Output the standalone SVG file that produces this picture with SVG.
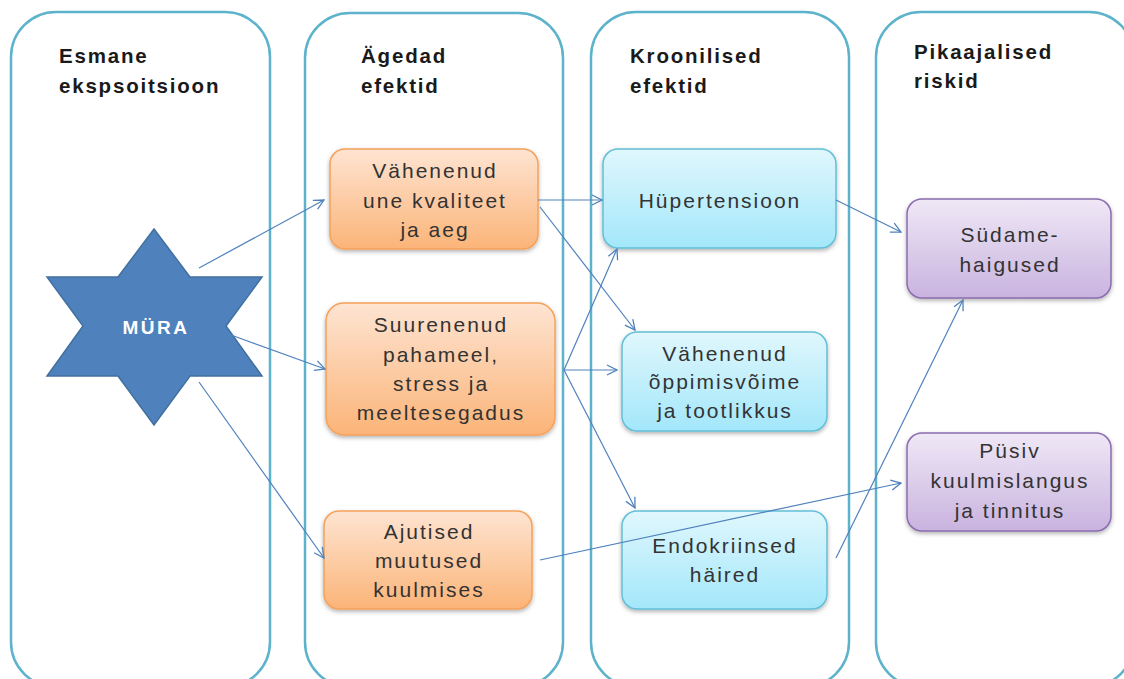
<svg xmlns="http://www.w3.org/2000/svg" width="1124" height="679" viewBox="0 0 1124 679">
<defs>
<linearGradient id="gO" x1="0" y1="0" x2="0" y2="1"><stop offset="0" stop-color="#fee4d2"/><stop offset="1" stop-color="#fbb478"/></linearGradient>
<linearGradient id="gB" x1="0" y1="0" x2="0" y2="1"><stop offset="0" stop-color="#e0f7fd"/><stop offset="1" stop-color="#a3e7fa"/></linearGradient>
<linearGradient id="gP" x1="0" y1="0" x2="0" y2="1"><stop offset="0" stop-color="#efe8f6"/><stop offset="1" stop-color="#c9b3df"/></linearGradient>
<filter id="sh" x="-10%" y="-10%" width="120%" height="130%"><feDropShadow dx="0" dy="2" stdDeviation="2" flood-color="#000" flood-opacity="0.3"/></filter>
<marker id="ar" viewBox="0 0 12 12" refX="11" refY="6" markerWidth="12" markerHeight="12" markerUnits="userSpaceOnUse" orient="auto"><path d="M1,1 L11,6 L1,11" fill="none" stroke="#4f81bd" stroke-width="1.3"/></marker>
</defs>
<style>
.col{fill:#fff;stroke:#5db3cb;stroke-width:2.5}
.hd{font-family:"Liberation Sans",Arial,sans-serif;font-weight:bold;font-size:20.5px;letter-spacing:1.8px;fill:#1a1a1a}
.bt{font-family:"Liberation Sans",Arial,sans-serif;font-size:21px;letter-spacing:2px;fill:#333;text-anchor:middle}
.or{fill:url(#gO);stroke:#f5a15a;stroke-width:1.5;filter:url(#sh)}
.bl{fill:url(#gB);stroke:#62bfd7;stroke-width:1.5;filter:url(#sh)}
.pu{fill:url(#gP);stroke:#8a6caf;stroke-width:1.5;filter:url(#sh)}
.cn{fill:none;stroke:#4f81bd;stroke-width:1.2;marker-end:url(#ar)}
</style>
<rect width="1124" height="679" fill="#fff"/>
<g id="col1"><rect class="col" x="11" y="12" width="259" height="675" rx="45"/><text class="hd" x="59" y="63">Esmane</text><text class="hd" x="59" y="93">ekspsoitsioon</text></g>
<g id="col2"><rect class="col" x="305" y="13" width="258" height="674" rx="45"/><text class="hd" x="361" y="63">Ägedad</text><text class="hd" x="361" y="93">efektid</text></g>
<g id="col3"><rect class="col" x="591" y="12" width="258" height="675" rx="45"/><text class="hd" x="630" y="63">Kroonilised</text><text class="hd" x="630" y="93">efektid</text></g>
<g id="col4"><rect class="col" x="876" y="12" width="258" height="675" rx="45"/><text class="hd" x="914" y="59">Pikaajalised</text><text class="hd" x="914" y="88">riskid</text></g>
<g id="mura"><path d="M154,229 L190,277 L262,277 L226,326 L262,376 L190,376 L154,425 L118,376 L47,376 L83,326 L47,277 L118,277 Z" fill="#4f81bd" stroke="#41709f" stroke-width="1.5"/><text x="156" y="334" font-family="'Liberation Sans',Arial,sans-serif" font-weight="bold" font-size="19" letter-spacing="2.5" fill="#fff" text-anchor="middle">MÜRA</text></g>
<g id="unekvaliteet"><rect class="or" x="330" y="149" width="208" height="100" rx="15"/><text class="bt" x="435" y="178">Vähenenud</text><text class="bt" x="435" y="208">une kvaliteet</text><text class="bt" x="435" y="237">ja aeg</text></g>
<g id="pahameel"><rect class="or" x="326" y="303" width="229" height="132" rx="18"/><text class="bt" x="441" y="332">Suurenenud</text><text class="bt" x="441" y="362">pahameel,</text><text class="bt" x="441" y="391">stress ja</text><text class="bt" x="441" y="420">meeltesegadus</text></g>
<g id="ajutised"><rect class="or" x="324" y="511" width="208" height="98" rx="15"/><text class="bt" x="429" y="539">Ajutised</text><text class="bt" x="429" y="568">muutused</text><text class="bt" x="429" y="597">kuulmises</text></g>
<g id="hupertensioon"><rect class="bl" x="603" y="149" width="233" height="99" rx="15"/><text class="bt" x="720" y="208">Hüpertensioon</text></g>
<g id="oppimisvoime"><rect class="bl" x="622" y="332" width="205" height="99" rx="15"/><text class="bt" x="725" y="361">Vähenenud</text><text class="bt" x="725" y="389">õppimisvõime</text><text class="bt" x="725" y="418">ja tootlikkus</text></g>
<g id="endokriinsed"><rect class="bl" x="622" y="511" width="205" height="98" rx="15"/><text class="bt" x="725" y="553">Endokriinsed</text><text class="bt" x="725" y="582">häired</text></g>
<g id="sudamehaigused"><rect class="pu" x="907" y="199" width="204" height="99" rx="15"/><text class="bt" x="1010" y="242">Südame-</text><text class="bt" x="1010" y="272">haigused</text></g>
<g id="kuulmislangus"><rect class="pu" x="907" y="433" width="204" height="98" rx="15"/><text class="bt" x="1010" y="458">Püsiv</text><text class="bt" x="1010" y="488">kuulmislangus</text><text class="bt" x="1010" y="518">ja tinnitus</text></g>
<g id="connectors">
<line class="cn" x1="199" y1="268" x2="324" y2="200"/>
<line class="cn" x1="231" y1="335" x2="325" y2="369"/>
<line class="cn" x1="199" y1="382" x2="324" y2="558"/>
<line class="cn" x1="538" y1="200" x2="602" y2="200"/>
<line class="cn" x1="540" y1="207" x2="635" y2="330"/>
<line class="cn" x1="564" y1="370" x2="617" y2="249"/>
<line class="cn" x1="564" y1="370" x2="617" y2="370"/>
<line class="cn" x1="564" y1="370" x2="635" y2="508"/>
<line class="cn" x1="540" y1="560" x2="901" y2="483"/>
<line class="cn" x1="836" y1="558" x2="963" y2="300"/>
<line class="cn" x1="836" y1="200" x2="901" y2="232"/>
</g>
</svg>
